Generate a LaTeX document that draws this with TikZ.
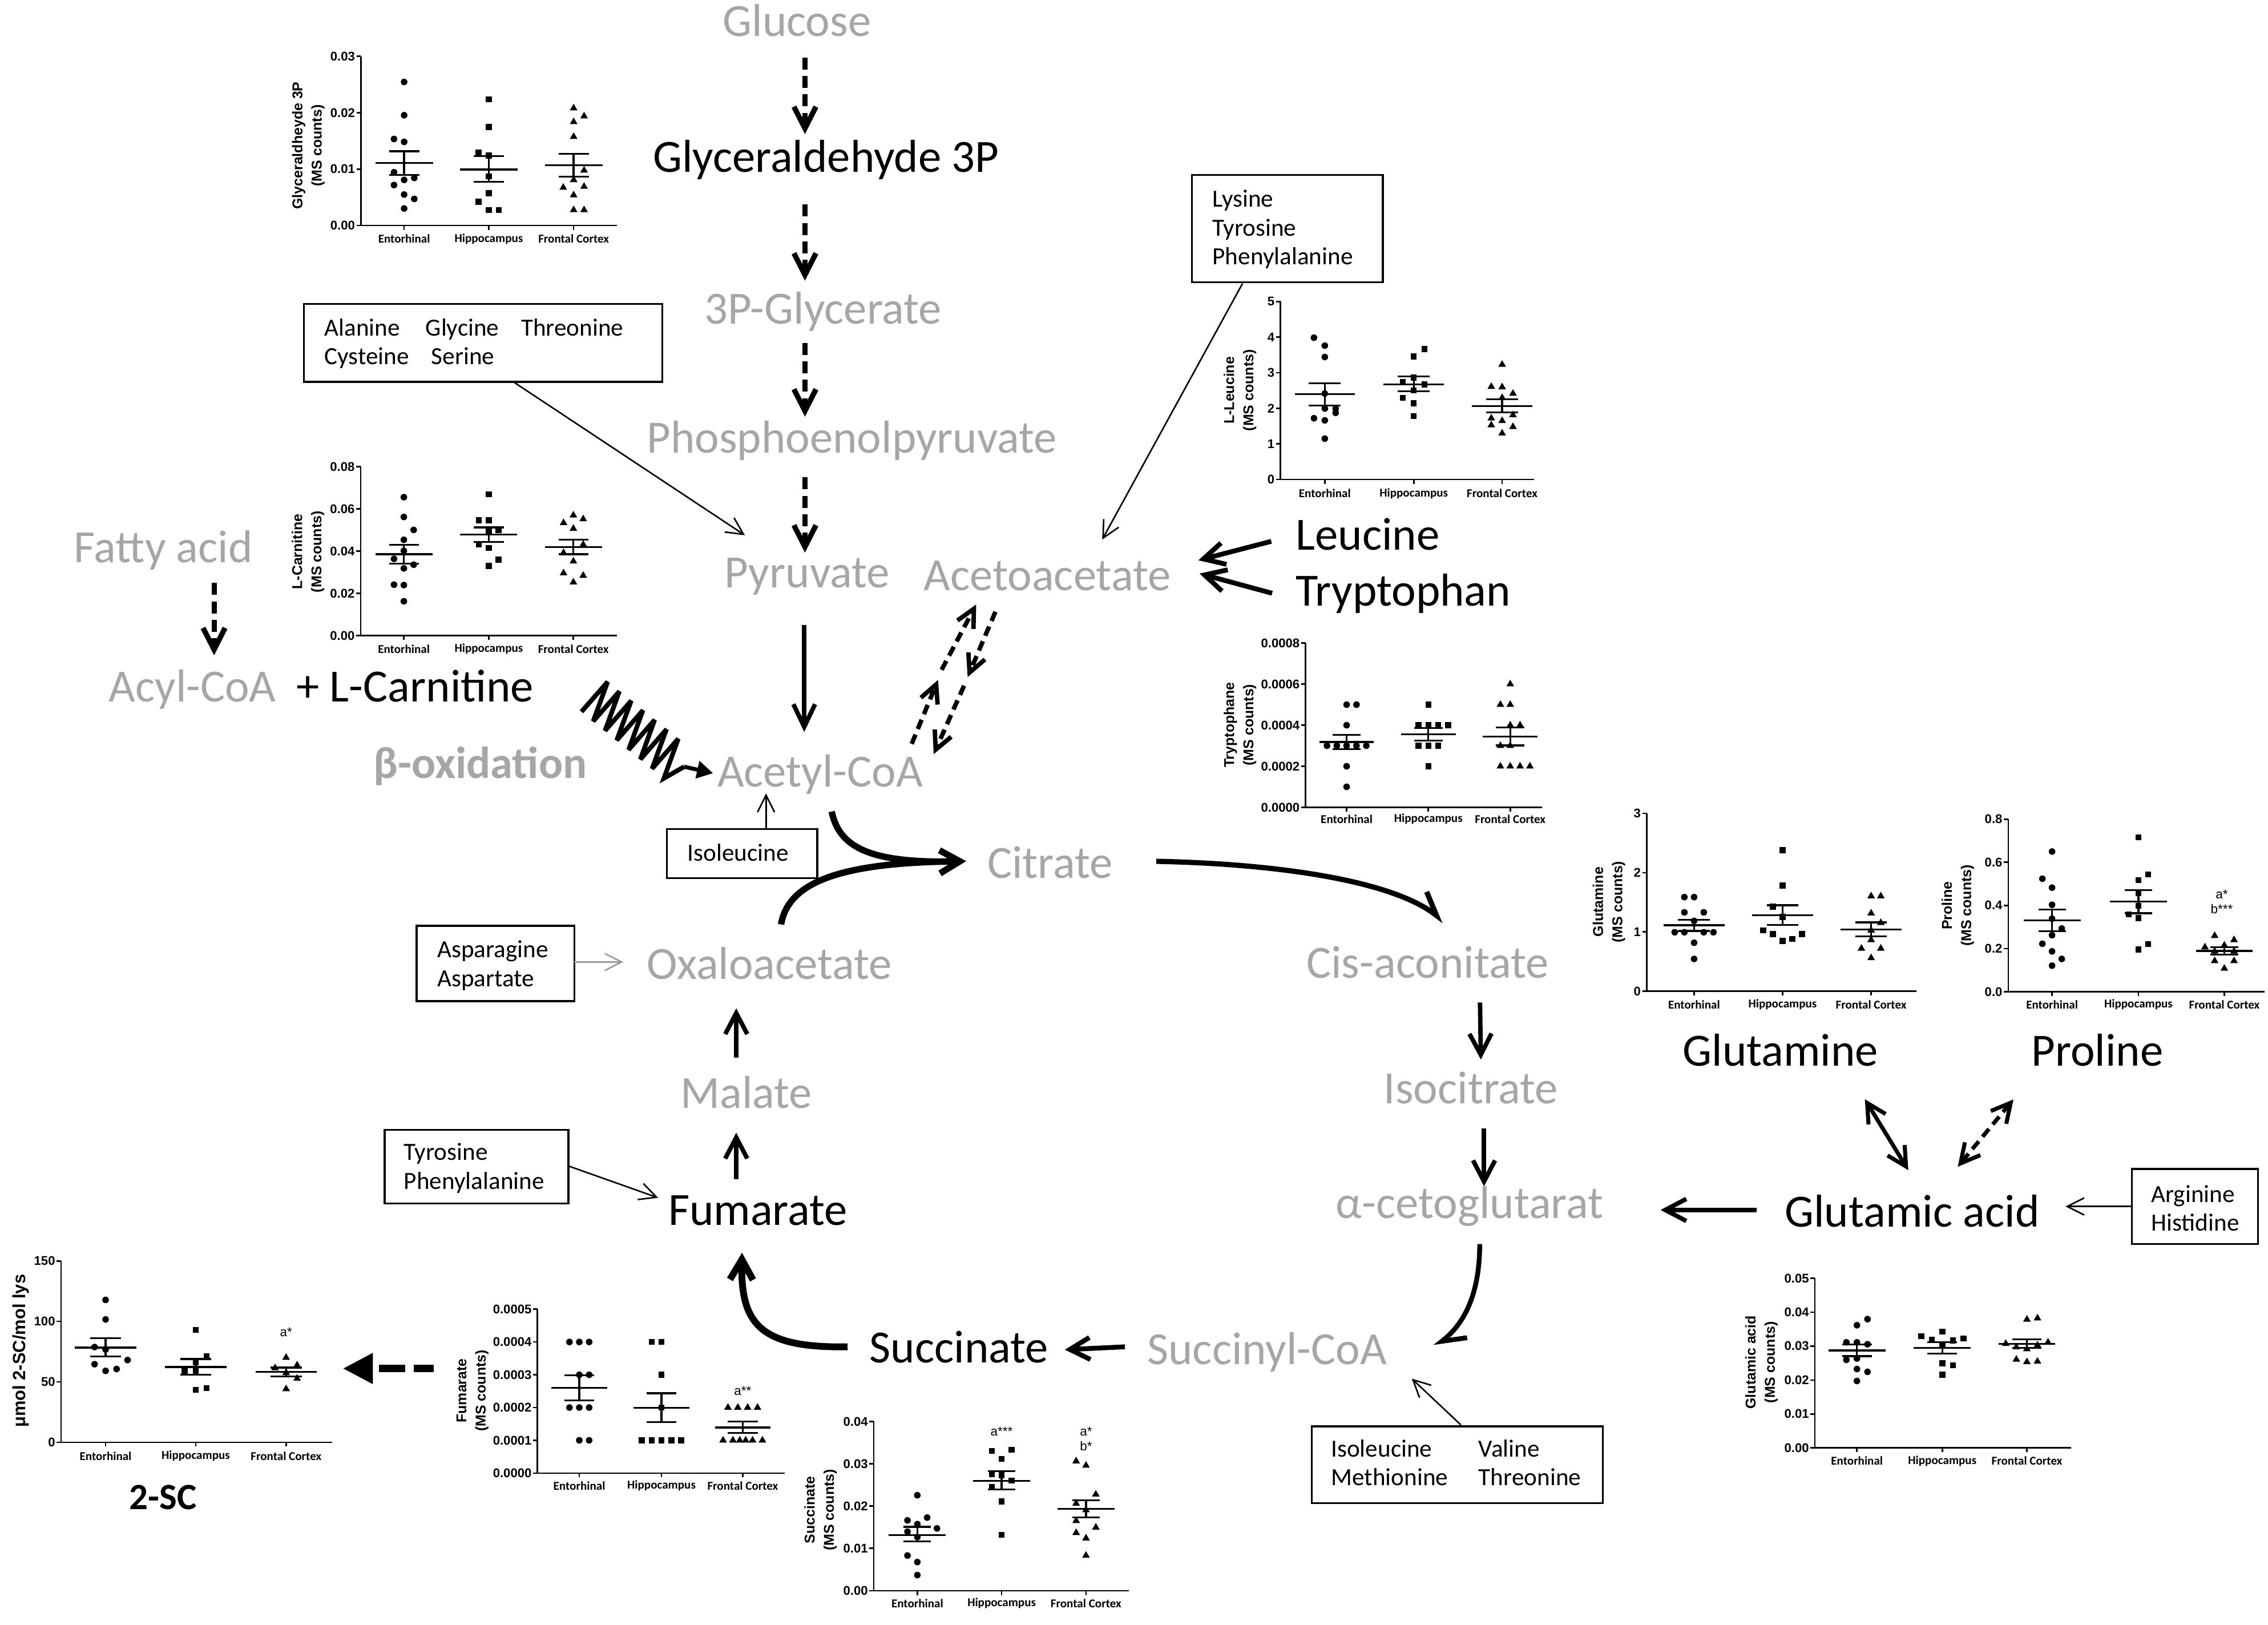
\documentclass[tikz,border=0pt]{standalone}
\usepackage{fontspec}
\setmainfont{Carlito}
\newfontfamily\plotfont{Liberation Sans}
\usetikzlibrary{arrows.meta,shapes.geometric}
\definecolor{lg}{RGB}{166,166,166}
\newcommand\bigfont{\fontsize{23}{27}\selectfont}
\newcommand\boxfont{\fontsize{12.3}{14.5}\selectfont}
% plot frame: #1 N, #2 ticks, #3 xr, #4 g1, #5 g2, #6 g3, #7 label dy, #8 prefix
\newcommand\pframe[8]{%
  \draw[ax] (0,#1) -- (0,0) -- (#3,0);
  \foreach \tkv/\tkl in {#2} {\draw[ax] (-3,\tkv) -- (0,\tkv); \node[tl] (#8t\tkv) at (-3.8,\tkv) {\tkl};}
  \foreach \gx/\gn [count=\gc] in {#4/Entorhinal,#5/Hippocampus,#6/Frontal Cortex} {\draw[ax] (\gx,0) -- (\gx,{-3/\K}); \node[gl] (#8g\gc) at (\gx,{-#7/\K}) {\gn};}
}
% points: #1 style, #2 group x, #3 offset, #4 list, #5 prefix
\newcommand\pts[5]{\foreach \px/\py [count=\pc] in {#4} \node[#1] (#5\pc) at ({#2+(\px)*#3},\py) {};}
% mean/sem: g, hw, sw, mean, lo, hi
\newcommand\msem[6]{%
  \draw[ml] ({#1-#2},#4) -- ({#1+#2},#4);
  \draw[ml] (#1,#5) -- (#1,#6);
  \draw[ml] ({#1-#3},#5) -- ({#1+#3},#5);
  \draw[ml] ({#1-#3},#6) -- ({#1+#3},#6);}
\newcommand\boxnode[5]{\node[bx, minimum width={(#4-#2)*0.7214pt}, minimum height={(#5-#3)*0.7214pt}] (#1) at ({(#2+#4)/2},{(#3+#5)/2}) {};}
\tikzset{
  lbl/.style={font=\bigfont, inner sep=0pt, anchor=base},
  glbl/.style={lbl, text=lg},
  btxt/.style={font=\boxfont, inner sep=0pt, anchor=base west},
  bx/.style={draw, line width=0.95pt, inner sep=0pt},
  ax/.style={line width=0.75pt},
  ml/.style={line width=0.95pt},
  mc/.style={circle, fill, inner sep=0pt, minimum size=3.3pt},
  ms/.style={rectangle, fill, inner sep=0pt, minimum size=3pt},
  mt/.style={regular polygon, regular polygon sides=3, fill, inner sep=0pt, minimum size=4.4pt},
  tl/.style={font=\plotfont\bfseries\fontsize{6.3}{7}\selectfont, anchor=east, inner sep=0pt},
  gl/.style={font=\bfseries\fontsize{6}{7}\selectfont, inner sep=0pt},
  yl/.style={font=\plotfont\bfseries\fontsize{7.1}{9.6}\selectfont, rotate=90, align=center, inner sep=0pt},
  ann/.style={font=\plotfont\fontsize{6.4}{7}\selectfont, inner sep=0pt},
  thk/.style={line width=2.2pt, -{Straight Barb[length=10.5pt,width=11pt]}},
  thn/.style={line width=0.75pt, -{Straight Barb[length=8.5pt,width=8.5pt]}},
  dsh/.style={line width=2.6pt, dash pattern=on 6pt off 3.2pt, -{Straight Barb[length=10.8pt,width=11pt]}},
  dsh2/.style={line width=2.2pt, dash pattern=on 5pt off 3pt, -{Straight Barb[length=9pt,width=9pt]}},
}
\begin{document}
\begin{tikzpicture}[x=0.7214pt,y=-0.7214pt]
\fill[white] (0,0) rectangle (1568,1122.95);
\useasboundingbox (0,0) rectangle (1568,1122.95);

%% ---------- main labels ----------
\node[glbl] (glucose) at (551,25) {Glucose};
\node[lbl] (g3p) at (571,119) {Glyceraldehyde 3P};
\node[glbl] (pg3) at (569,224) {3P-Glycerate};
\node[glbl] (pep) at (589,313) {Phosphoenolpyruvate};
\node[glbl] (pyr) at (558,406) {Pyruvate};
\node[glbl] (acac) at (724,408) {Acetoacetate};
\node[lbl, anchor=base west] (leu) at (895.6,380) {Leucine};
\node[lbl, anchor=base west] (trp) at (895.6,419) {Tryptophan};
\node[glbl] (fatty) at (113,389) {Fatty acid};
\node[glbl] (acyl) at (133,485) {Acyl-CoA};
\node[lbl] (carn) at (287,485) {+ L-Carnitine};
\node[glbl, font=\fontsize{22.4}{27}\selectfont\bfseries] (beta) at (332,538) {β-oxidation};
\node[glbl] (acoa) at (567,544) {Acetyl-CoA};
\node[glbl] (citrate) at (726,607) {Citrate};
\node[glbl] (oaa) at (532,677) {Oxaloacetate};
\node[glbl] (cisac) at (987,676) {Cis-aconitate};
\node[glbl] (malate) at (516,766) {Malate};
\node[glbl] (isocit) at (1017,763) {Isocitrate};
\node[lbl] (gln) at (1231,737) {Glutamine};
\node[lbl] (pro) at (1450,737) {Proline};
\node[lbl] (fum) at (524,847) {Fumarate};
\node[glbl] (akg) at (1016,842) {α-cetoglutarat};
\node[lbl] (glu) at (1322,848) {Glutamic acid};
\node[lbl] (succ) at (663,942) {Succinate};
\node[glbl] (succoa) at (876,943) {Succinyl-CoA};
\node[font=\bfseries\fontsize{18.5}{20}\selectfont, inner sep=0pt] (twosc) at (112.7,1035) {2-SC};

%% ---------- boxes ----------
\boxnode{bala}{210}{210}{458}{264}
\node[btxt] (tala) at (224,232) {Alanine};
\node[btxt] (tgly) at (294,232) {Glycine};
\node[btxt] (tthr) at (360,232) {Threonine};
\node[btxt] (tcys) at (224,252) {Cysteine};
\node[btxt] (tser) at (298,252) {Serine};

\boxnode{blys}{824}{121}{956}{195}
\node[btxt] (tlys) at (838,143) {Lysine};
\node[btxt] (ttyr) at (838,163) {Tyrosine};
\node[btxt] (tphe) at (838,183) {Phenylalanine};

\boxnode{bile}{461}{573}{565}{607}
\node[btxt] (tile) at (475,595.3) {Isoleucine};

\boxnode{basn}{288}{640}{397}{692}
\node[btxt] (tasn) at (302,662) {Asparagine};
\node[btxt] (tasp) at (302,682) {Aspartate};

\boxnode{btyr}{266}{781}{393}{832}
\node[btxt] (ttyr2) at (279,802) {Tyrosine};
\node[btxt] (tphe2) at (279,822) {Phenylalanine};

\boxnode{bval}{907}{986}{1108}{1039}
\node[btxt] (tile2) at (920,1007) {Isoleucine};
\node[btxt] (tval) at (1022,1007) {Valine};
\node[btxt] (tmet) at (920,1027) {Methionine};
\node[btxt] (tthr2) at (1022,1027) {Threonine};

\boxnode{barg}{1474}{808}{1561}{860}
\node[btxt] (targ) at (1487,831) {Arginine};
\node[btxt] (this) at (1487,851) {Histidine};

%% ---------- connector end points ----------
\coordinate (d1a) at (556.5,39.7);  \coordinate (d1b) at (556.5,92.7);
\coordinate (d2a) at (556.5,141.4); \coordinate (d2b) at (556.5,194);
\coordinate (d3a) at (556.5,237);   \coordinate (d3b) at (556.5,288);
\coordinate (d4a) at (556.5,330);   \coordinate (d4b) at (556.5,382);
\coordinate (dfa) at (148,403);     \coordinate (dfb) at (148,453);
\coordinate (pa1) at (556,432);     \coordinate (pa2) at (556,506);
\coordinate (le1) at (878.9,374.2); \coordinate (le2) at (828.5,387.3);
\coordinate (tr1) at (879.5,410.1); \coordinate (tr2) at (829.3,396.5);
\coordinate (a1s) at (630.3,514.2); \coordinate (a1e) at (648.5,470);
\coordinate (a2s) at (651,463);     \coordinate (a2e) at (674.9,417.8);
\coordinate (b1s) at (688.2,422.9); \coordinate (b1e) at (669,468);
\coordinate (b2s) at (666.5,474);   \coordinate (b2e) at (645.5,521.3);
\coordinate (zzs) at (402,492);     \coordinate (zze) at (473,530);
\coordinate (zzt) at (493,534.5);
\coordinate (il1) at (529.6,573);   \coordinate (il2) at (529.6,548.5);
\coordinate (al1) at (355,264);     \coordinate (al2) at (515,370);
\coordinate (ly1) at (859,196);     \coordinate (ly2) at (762,373);
\coordinate (c1s) at (575,561);     \coordinate (c2s) at (540,639);
\coordinate (ctp) at (668,595.3);   \coordinate (c2e) at (655,595.5);
\coordinate (as1) at (397,665);     \coordinate (as2) at (431,665);
\coordinate (ma1) at (509,731);     \coordinate (ma2) at (509,697);
\coordinate (fu1) at (509,815);     \coordinate (fu2) at (509,783);
\coordinate (ty1) at (393,806);     \coordinate (ty2) at (455,828);
\coordinate (sf1) at (586,931);     \coordinate (sf2) at (513,866);
\coordinate (ss1) at (777.7,931);   \coordinate (ss2) at (736.2,933);
\coordinate (ak1) at (1023,860);    \coordinate (ak2) at (992,931);
\coordinate (va1) at (1010,985);    \coordinate (va2) at (976,953);
\coordinate (ci1) at (799.4,595.4); \coordinate (ci2) at (998.4,636.8);
\coordinate (is1) at (1023.2,693);  \coordinate (is2) at (1023.8,732.4);
\coordinate (ik1) at (1026,780);    \coordinate (ik2) at (1026,820);
\coordinate (ga1) at (1214.4,836.4);\coordinate (ga2) at (1148,836.4);
\coordinate (ar1) at (1474,834);    \coordinate (ar2) at (1428,834);
\coordinate (gq1) at (1289.3,759.9);\coordinate (gq2) at (1319.3,808.9);
\coordinate (pr1) at (1392,760);    \coordinate (pr2) at (1353.5,806.5);
\coordinate (sc1) at (300,946);     \coordinate (sc2) at (237,946);

%% ---------- connectors ----------
\draw[dsh] (d1a) -- (d1b);
\draw[dsh] (d2a) -- (d2b);
\draw[dsh] (d3a) -- (d3b);
\draw[dsh] (d4a) -- (d4b);
\draw[dsh] (dfa) -- (dfb);
\draw[line width=2.2pt, -{Straight Barb[length=11.3pt,width=10.8pt]}] (pa1) -- (pa2);
\draw[line width=2.4pt, -{Straight Barb[length=10.5pt,width=11pt]}] (le1) -- (le2);
\draw[line width=2.4pt, -{Straight Barb[length=10.5pt,width=11pt]}] (tr1) -- (tr2);
\draw[dsh2] (a1s) -- (a1e);
\draw[dsh2] (a2s) -- (a2e);
\draw[dsh2] (b1s) -- (b1e);
\draw[dsh2] (b2s) -- (b2e);
% beta-oxidation zigzag
\draw[line width=2.3pt, miter limit=3] (zzs) -- (420.1,471.3) -- (410.1,498.6) -- (428.2,477.9) -- (418.3,505.1) -- (436.4,484.4)
  -- (426.4,511.7) -- (444.5,491) -- (434.6,518.3) -- (452.6,497.6) -- (442.7,524.9) -- (460.8,504.1)
  -- (450.8,531.4) -- (468.9,510.7) -- (459,538) -- (zze);
\draw[line width=2pt, -{Triangle[length=8pt,width=8.5pt]}] (zze) -- (zzt);
\draw[thn] (il1) -- (il2);
\draw[thn] (al1) -- (al2);
\draw[thn] (ly1) -- (ly2);
\draw[line width=3.2pt, -{Straight Barb[length=10pt,width=11.5pt]}] (c1s) .. controls (580,585) and (600,597) .. (ctp);
\draw[line width=3.2pt] (c2s) .. controls (545,610) and (580,597) .. (c2e);
\draw[thn, draw=gray!80] (as1) -- (as2);
\draw[thk] (ma1) -- (ma2);
\draw[thk] (fu1) -- (fu2);
\draw[thn] (ty1) -- (ty2);
\draw[line width=3.4pt, -{Straight Barb[length=10pt,width=11.5pt]}] (sf1) .. controls (525,932) and (512,915) .. (sf2);
\draw[line width=2.4pt, -{Straight Barb[length=10pt,width=11pt]}] (ss1) -- (ss2);
\draw[line width=2.4pt, -{Straight Barb[length=11pt,width=13pt,harpoon]}] (ak1) .. controls (1023,895) and (1012,915) .. (ak2);
\draw[thn] (va1) -- (va2);
\draw[line width=2.6pt, -{Straight Barb[length=11pt,width=13pt,harpoon]}] (ci1) .. controls (880,597) and (960,608) .. (ci2);
\draw[thk] (is1) -- (is2);
\draw[thk] (ik1) -- (ik2);
\draw[thk] (ga1) -- (ga2);
\draw[thn] (ar1) -- (ar2);
\draw[line width=2pt, {Straight Barb[length=9.5pt,width=10pt]}-{Straight Barb[length=9.5pt,width=10pt]}] (gq1) -- (gq2);
\draw[line width=2pt, dash pattern=on 5pt off 3pt, {Straight Barb[length=9.5pt,width=10pt]}-{Straight Barb[length=9.5pt,width=10pt]}] (pr1) -- (pr2);
\draw[line width=3.6pt, dash pattern=on 10.1pt off 4.3pt on 13pt off 10pt, -{Triangle[length=15pt,width=14.5pt]}] (sc1) -- (sc2);

%% ---------- plot 1: Glyceraldehyde 3P ----------
\begin{scope}[shift={(249.5,155.9)},yscale=-39]
\def\K{39}
\pframe{3}{0/0.00,1/0.01,2/0.02,3/0.03}{177}{29.9}{88.4}{147.1}{9.2}{pa}
\pts{mc}{29.9}{7}{0/2.545,0/1.955,-1/1.534,0/1.483,-1/0.944,0/0.809,1/0.843,-1/0.718,0/0.549,1/0.472,0/0.303}{pae}
\pts{ms}{88.4}{7}{0/2.235,0/1.746,-1/1.298,0/1.24,0/0.87,0/0.573,-1/0.421,0/0.276,1/0.276}{pah}
\pts{mt}{147.1}{7.2}{0/2.08,1/1.938,0/1.837,0/1.574,1/0.978,0/0.809,-1/0.674,1/0.691,0/0.539,0/0.276,1/0.276}{paf}
\msem{29.9}{19.9}{10.5}{1.112}{0.90}{1.315}
\msem{88.4}{19.9}{10.5}{0.994}{0.775}{1.23}
\msem{147.1}{19.9}{10.5}{1.072}{0.866}{1.271}
\node[yl] (pay) at (-36.3,1.418) {Glyceraldheyde 3P\\(MS counts)};
\end{scope}

%% ---------- plot 2: L-Carnitine ----------
\begin{scope}[shift={(249.3,439.3)},yscale=-29.2]
\def\K{29.2}
\pframe{4}{0/0.00,1/0.02,2/0.04,3/0.06,4/0.08}{177.1}{29.9}{88.6}{147.1}{9.2}{pb}
\pts{mc}{29.9}{6.8}{0/3.275,0/2.806,1/2.5,0/2.266,0/2.005,-1/1.815,1/1.676,0/1.59,-1/1.203,0/1.194,0/0.811}{pbe}
\pts{ms}{88.6}{6.8}{0/3.342,-1/2.725,0/2.725,1/2.5,0/2.455,-1/2.153,0/2.072,1/1.793,0/1.644}{pbh}
\pts{mt}{147.1}{6.8}{0/2.847,-1/2.667,1/2.757,0/2.532,1/2.153,-1/1.959,0/1.757,-1/1.477,1/1.419,0/1.261}{pbf}
\msem{29.9}{19.7}{10.3}{1.923}{1.698}{2.149}
\msem{88.6}{19.7}{10.3}{2.387}{2.216}{2.559}
\msem{147.1}{19.7}{10.3}{2.095}{1.923}{2.266}
\node[yl] (pby) at (-36.3,1.983) {L-Carnitine\\(MS counts)};
\end{scope}

%% ---------- plot 3: L-Leucine ----------
\begin{scope}[shift={(885.2,331.4)},yscale=-24.58]
\def\K{24.58}
\pframe{5}{0/0,1/1,2/2,3/3,4/4,5/5}{175.2}{30.7}{92.2}{153.3}{9.6}{pc}
\pts{mc}{30.7}{7.5}{-1/3.986,0/3.762,0/3.442,0/2.415,0/1.993,1/1.993,1/1.872,-1/1.721,0/1.661,0/1.147}{pce}
\pts{ms}{92.2}{7.5}{1/3.665,0/3.46,0/2.868,-1/2.736,1/2.669,0/2.506,-1/2.295,0/2.144,0/1.781}{pch}
\pts{mt}{153.3}{7.5}{0/3.231,-1/2.609,0/2.597,1/2.415,0/2.295,1/1.812,-1/1.721,0/1.649,-1/1.528,1/1.479,0/1.298}{pcf}
\msem{30.7}{20.8}{11}{2.397}{2.083}{2.705}
\msem{92.2}{20.8}{11}{2.669}{2.476}{2.899}
\msem{153.3}{20.8}{11}{2.065}{1.89}{2.252}
\node[yl] (pcy) at (-27.9,2.506) {L-Leucine\\(MS counts)};
\end{scope}

%% ---------- plot 4: Tryptophane ----------
\begin{scope}[shift={(902.6,558.1)},yscale=-28.4]
\def\K{28.4}
\pframe{4}{0/0.0000,1/0.0002,2/0.0004,3/0.0006,4/0.0008}{163.4}{28.4}{84.9}{141.5}{8.1}{pd}
\pts{mc}{28.4}{6.8}{0/2.5,1/2.5,0/2,-2/1.5,-1/1.5,0/1.5,1/1.5,2/1.5,0/1,0/0.5}{pde}
\pts{ms}{84.9}{6.8}{0/2.5,-1/2,0/2,1/2,2/2,-1/1.5,0/1.5,1/1.5,0/1}{pdh}
\pts{mt}{141.5}{6.8}{0/3,-1/2.5,0/2.5,0/2,1/2,-1/1.5,0/1.5,-1/1,0/1,1/1,2/1}{pdf}
\msem{28.4}{18.9}{9.8}{1.59}{1.418}{1.766}
\msem{84.9}{18.9}{9.8}{1.775}{1.622}{1.928}
\msem{141.5}{18.9}{9.8}{1.72}{1.506}{1.947}
\node[yl] (pdy) at (-45.3,2.007) {Tryptophane\\(MS counts)};
\end{scope}

%% ---------- plot 5: Glutamine ----------
\begin{scope}[shift={(1138.4,685.2)},yscale=-40.97]
\def\K{40.97}
\pframe{3}{0/0,1/1,2/2,3/3}{186.4}{32.8}{94}{155.2}{9.3}{pe}
\pts{mc}{32.8}{6.7}{-1/1.588,0/1.588,-1/1.331,1/1.331,0/1.187,-2/0.995,-1/0.995,1/0.995,2/0.995,0/0.818,0/0.545}{pee}
\pts{ms}{94}{6.7}{0/2.38,0/1.781,-1/1.428,0/1.251,-2/1.027,-1/0.962,0/0.85,1/0.882,2/0.962}{peh}
\pts{mt}{155.2}{6.7}{0/1.604,1/1.604,0/1.315,1/1.155,0/1.027,0/0.866,-1/0.722,1/0.722,0/0.561}{pef}
\msem{32.8}{21.2}{11}{1.113}{1.017}{1.203}
\msem{94}{21.2}{11}{1.283}{1.116}{1.45}
\msem{155.2}{21.2}{11}{1.043}{0.924}{1.161}
\node[yl] (pey) at (-26,1.508) {Glutamine\\(MS counts)};
\end{scope}

%% ---------- plot 6: Proline ----------
\begin{scope}[shift={(1388.4,685.5)},yscale=-29.8]
\def\K{29.8}
\pframe{4}{0/0.0,1/0.2,2/0.4,3/0.6,4/0.8}{177.2}{30.3}{90}{149.4}{9}{pf}
\pts{mc}{30.3}{6.7}{0/3.25,-1/2.62,0/2.412,0/2.015,0/1.693,1/1.464,0/1.31,-1/1.111,0/0.935,1/0.759,0/0.604}{pfe}
\pts{ms}{90}{6.7}{0/3.58,1/2.721,0/2.589,0/2.28,0/1.993,-1/1.795,0/1.707,1/1.103,0/0.979}{pfh}
\pts{mt}{149.4}{6.7}{-1/1.297,1/1.2,-2/1.032,0/1.076,-1/0.935,1/0.935,-1/0.714,1/0.714,0/0.538}{pff}
\msem{30.3}{19.7}{9.5}{1.654}{1.398}{1.905}
\msem{90}{19.7}{9.5}{2.09}{1.817}{2.359}
\msem{149.4}{19.7}{9.5}{0.944}{0.856}{1.032}
\node[ann] (pfa1) at (147.6,2.258) {a*};
\node[ann] (pfa2) at (147.6,1.916) {b***};
\node[yl] (pfy) at (-34.8,1.997) {Proline\\(MS counts)};
\end{scope}

%% ---------- plot 7: Glutamic acid ----------
\begin{scope}[shift={(1254.7,1000.9)},yscale=-23.46]
\def\K{23.46}
\pframe{5}{0/0.00,1/0.01,2/0.02,3/0.03,4/0.04,5/0.05}{177.3}{29.1}{88.1}{146.6}{9}{pg}
\pts{mc}{29.1}{7.3}{1/3.795,0/3.615,-1/3.111,0/3.111,1/3.055,-1/2.595,0/2.635,0/2.326,1/2.242,0/1.973}{pge}
\pts{ms}{88.1}{7.3}{-2/3.296,0/3.43,2/3.223,-1/3.195,1/3.167,0/3.027,0/2.494,1/2.438,0/2.158}{pgh}
\pts{mt}{146.6}{7.3}{0/3.784,1/3.823,-2/3.072,2/3.111,-1/2.971,0/2.915,1/3.027,-1/2.607,0/2.534,1/2.55}{pgf}
\msem{29.1}{19.7}{10.2}{2.87}{2.702}{3.044}
\msem{88.1}{19.7}{10.2}{2.943}{2.775}{3.111}
\msem{146.6}{19.7}{10.2}{3.066}{2.943}{3.195}
\node[yl] (pgy) at (-36.9,2.523) {Glutamic acid\\(MS counts)};
\end{scope}

%% ---------- plot 8: 2-SC ----------
\begin{scope}[shift={(42.2,997)},yscale=-41.77]
\def\K{41.77}
\pframe{3}{0/0,1/50,2/100,3/150}{187.3}{30.8}{93.1}{155.6}{9.4}{ph}
\pts{mc}{30.8}{7.6}{0/2.357,0/2.033,-1/1.576,0/1.535,2/1.361,-1/1.292,0/1.182,1/1.213}{phe}
\pts{ms}{93.1}{7.6}{0/1.859,1/1.424,0/1.324,-1/1.182,0/1.18,0/0.867,1/0.898}{phh}
\pts{mt}{155.6}{7.6}{0/1.402,1/1.276,-1/1.229,0/1.15,1/1.056,0/0.882}{phf}
\msem{30.8}{21.2}{10.8}{1.566}{1.418}{1.724}
\msem{93.1}{21.2}{10.8}{1.245}{1.119}{1.377}
\msem{155.6}{21.2}{10.8}{1.166}{1.087}{1.235}
\node[ann] (pha1) at (155.6,1.827) {a*};
\node[yl, font=\plotfont\bfseries\fontsize{8.8}{10}\selectfont] (phy) at (-27.7,1.513) {μmol 2-SC/mol lys};
\end{scope}

%% ---------- plot 9: Fumarate ----------
\begin{scope}[shift={(371.6,1018.3)},yscale=-22.66]
\def\K{22.66}
\pframe{5}{0/0.0000,1/0.0001,2/0.0002,3/0.0003,4/0.0004,5/0.0005}{171.1}{28.9}{85.7}{141.9}{8.7}{pi}
\pts{mc}{28.9}{6.8}{-1/4,0/4,1/4,0/3,1/3,-1/2,0/2,1/2,0/1,1/1}{pie}
\pts{ms}{85.7}{6.8}{-1/4,0/4,0/3,0/2,-2/1,-1/1,0/1,1/1,2/1}{pih}
\pts{mt}{141.9}{6.8}{-1.5/2,-0.5/2,0.5/2,1.5/2,-2/1,-1/1,-0.3/1,0.3/1,1/1,2/1}{pif}
\msem{28.9}{19.2}{10.3}{2.596}{2.22}{2.98}
\msem{85.7}{19.2}{10.3}{1.987}{1.556}{2.437}
\msem{141.9}{19.2}{10.3}{1.391}{1.225}{1.57}
\node[ann] (pia1) at (141.9,2.502) {a**};
\node[yl] (piy) at (-44.9,2.515) {Fumarate\\(MS counts)};
\end{scope}

%% ---------- plot 10: Succinate ----------
\begin{scope}[shift={(604.1,1099.6)},yscale=-29.25]
\def\K{29.25}
\pframe{4}{0/0.00,1/0.01,2/0.02,3/0.03,4/0.04}{176.5}{30.1}{88.4}{146.7}{8.7}{pj}
\pts{mc}{30.1}{6.8}{0/2.256,-1/1.662,1/1.728,0/1.574,2/1.472,-1/1.395,0/1.267,-1/0.831,0/0.677,0/0.369}{pje}
\pts{ms}{88.4}{6.8}{-1/3.303,1/3.333,0/3.113,-1/2.75,0/2.728,1/2.6,-1/2.446,0/2.113,0/1.318}{pjh}
\pts{mt}{146.7}{6.8}{-1/3.062,0/2.959,1/2.277,-1/2.062,0/1.908,-1/1.651,1/1.497,-1/1.369,0/1.241,0/0.831}{pjf}
\msem{30.1}{19.7}{9.5}{1.318}{1.164}{1.508}
\msem{88.4}{19.7}{9.5}{2.6}{2.395}{2.821}
\msem{146.7}{19.7}{9.5}{1.933}{1.728}{2.138}
\node[ann] (pja1) at (88.4,3.764) {a***};
\node[ann] (pja2) at (146.7,3.764) {a*};
\node[ann] (pja3) at (146.7,3.422) {b*};
\node[yl] (pjy) at (-36.8,1.908) {Succinate\\(MS counts)};
\end{scope}
\end{tikzpicture}
\end{document}
